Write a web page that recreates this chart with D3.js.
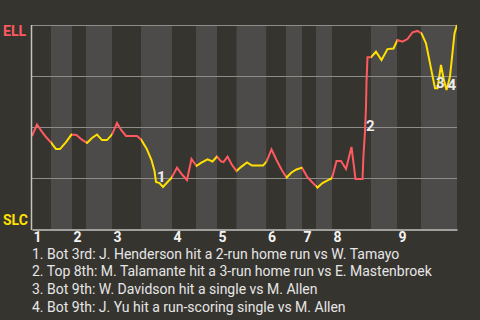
<!DOCTYPE html>
<html>
<head>
<meta charset="utf-8">
<script src="https://cdn.jsdelivr.net/npm/d3@7"></script>
<style>
  body { margin: 0; background: #36342f; }
  svg { display: block; font-family: Roboto, "Noto Sans", sans-serif; }
</style>
</head>
<body>
<div id="chart-area"></div>
<script>
// game progress (plate appearances, stretched) and ELL win probability (%)
var progress = [0, 1, 1.9, 2.8, 3.8, 4.8, 5.6, 6.8, 7.9, 8.9,
  9.9, 11.0, 12.0, 13.0, 14.0, 15.0, 16.0, 17.0, 17.9, 18.8,
  21.0, 21.8, 22.9, 23.9, 24.5, 24.8, 25.5, 26.2, 27.2, 27.9,
  29.0, 30.0, 31.0, 31.9, 32.9, 33.8, 35.1, 36.1, 37.0, 37.8,
  38.3, 39.1, 40.0, 40.9, 41.9, 43.0, 44.0, 46.2, 46.9, 47.9,
  48.9, 49.9, 50.9, 51.9, 52.9, 54.0, 55.0, 55.9, 57.1, 58.1,
  59.2, 60.0, 60.9, 61.8, 62.8, 63.9, 64.7, 66.1, 66.3, 66.6,
  66.8, 66.9, 67.1, 67.8, 68.8, 69.9, 71.1, 72.3, 73.1, 74.1,
  75.1, 76.1, 77.1, 77.9, 78.8, 79.6, 80.6, 81.1, 81.8, 82.3,
  82.9, 83.6, 84.5, 85];
var ellWin = [45.6, 51.2, 48.0, 45.1, 42.4, 39.2, 39.2, 42.6, 46.3, 46.1,
  43.9, 42.2, 44.6, 46.3, 43.6, 43.6, 46.3, 52.0, 48.3, 45.6,
  45.6, 43.9, 39.5, 33.8, 28.4, 23.0, 22.5, 20.6, 23.3, 25.0,
  30.1, 26.7, 24.0, 34.3, 30.9, 32.4, 34.1, 33.1, 35.5, 33.1,
  32.8, 35.5, 31.4, 28.4, 30.6, 32.6, 31.1, 31.1, 33.0, 39.0,
  33.8, 29.2, 25.2, 27.7, 29.2, 30.1, 25.7, 23.3, 20.3, 22.5,
  24.0, 24.9, 33.3, 33.3, 29.4, 40.2, 24.5, 24.5, 36.3, 48.0,
  60.0, 72.1, 84.2, 84.2, 86.9, 82.8, 88.2, 88.5, 92.6, 91.8,
  93.1, 96.4, 97.1, 95.9, 91.0, 81.2, 69.0, 69.0, 80.4, 73.9,
  68.1, 74.7, 95.9, 100];

// half-inning starts (top, bottom) per inning
var innings = ["1", "2", "3", "4", "5", "6", "7", "8", "9"];
var topStarts = [0, 8.0, 16.0, 28.0, 37.0, 46.9, 54.0, 60.0, 73.0];
var botStarts = [3.8, 10.8, 21.8, 32.8, 40.9, 50.8, 56.8, 67.8, 77.8];
var gameEnd = 85;

var gridPct = [25, 50, 75, 100];

var eventIdx = [25, 69, 86, 90];
var eventText = [
  "1. Bot 3rd: J. Henderson hit a 2-run home run vs W. Tamayo",
  "2. Top 8th: M. Talamante hit a 3-run home run vs E. Mastenbroek",
  "3. Bot 9th: W. Davidson hit a single vs M. Allen",
  "4. Bot 9th: J. Yu hit a run-scoring single vs M. Allen"
];

var W = 480, H = 320;
var red = "#ff5a5f", yellow = "#ffe000";

var svg = d3.select("#chart-area").append("svg")
    .attr("width", W)
    .attr("height", H);

var x = d3.scaleLinear().domain([0, gameEnd]).range([32, 457]);
var y = d3.scaleLinear().domain([0, 100]).range([229, 25]);

// half-inning bands
var halves = [];
innings.forEach((d, i) => {
  halves.push({ top: true, x0: topStarts[i], x1: botStarts[i] });
  halves.push({ top: false, x0: botStarts[i], x1: i < 8 ? topStarts[i + 1] : gameEnd });
});

svg.selectAll("rect.band")
  .data(halves)
  .enter().append("rect")
    .attr("class", "band")
    .attr("x", (d) => x(d.x0))
    .attr("y", y(100))
    .attr("width", (d) => x(d.x1) - x(d.x0))
    .attr("height", y(0) - y(100))
    .attr("fill", (d) => d.top ? "#36342f" : "#4c4b49");

// gridlines
svg.selectAll("line.grid")
  .data(gridPct)
  .enter().append("line")
    .attr("x1", x(0)).attr("x2", x(gameEnd))
    .attr("y1", (d) => y(d) + 0.5).attr("y2", (d) => y(d) + 0.5)
    .attr("stroke", "#8e8d8a")
    .attr("stroke-width", 1);

// clip paths so the line takes the batting team's colour
var defs = svg.append("defs");
["top", "bot"].forEach((k) => {
  defs.append("clipPath").attr("id", "clip-" + k)
    .selectAll("rect")
    .data(halves.filter((d) => d.top === (k === "top")))
    .enter().append("rect")
      .attr("x", (d) => x(d.x0))
      .attr("y", 0)
      .attr("width", (d) => x(d.x1) - x(d.x0))
      .attr("height", H);
});

var points = progress.map((p, i) => [p, ellWin[i]]);
var line = d3.line().x((d) => x(d[0])).y((d) => y(d[1]));

svg.append("path").datum(points)
  .attr("d", line).attr("fill", "none")
  .attr("stroke", red).attr("stroke-width", 2)
  .attr("clip-path", "url(#clip-top)");
svg.append("path").datum(points)
  .attr("d", line).attr("fill", "none")
  .attr("stroke", yellow).attr("stroke-width", 2)
  .attr("clip-path", "url(#clip-bot)");

// axes
svg.append("line")
  .attr("x1", x(0) - 0.5).attr("x2", x(0) - 0.5)
  .attr("y1", y(100)).attr("y2", y(0) + 1)
  .attr("stroke", "#c4c3c0").attr("stroke-width", 1.5);

var xAxis = d3.axisBottom(x)
  .tickValues(topStarts)
  .tickFormat((d, i) => innings[i])
  .tickSize(0);
var gx = svg.append("g")
  .attr("transform", "translate(0," + (y(0) + 0.5) + ")")
  .call(xAxis);
gx.select(".domain").attr("stroke", "#c4c3c0").attr("stroke-width", 1.5);
gx.selectAll("text")
  .attr("text-anchor", "start")
  .attr("x", 1)
  .attr("fill", "#f2f2f2")
  .style("font-family", "Roboto, sans-serif")
  .style("font-size", "14px")
  .style("font-weight", "bold");

// team labels
svg.append("text").attr("x", 3).attr("y", 36)
  .attr("fill", red).style("font-size", "14px").style("font-weight", "bold")
  .text("ELL");
svg.append("text").attr("x", 3).attr("y", 224.5)
  .attr("fill", yellow).style("font-size", "14px").style("font-weight", "bold")
  .text("SLC");

// event markers
svg.selectAll("text.evt")
  .data(eventIdx)
  .enter().append("text")
    .attr("class", "evt")
    .attr("x", (d) => x(progress[d]) + 1)
    .attr("y", (d) => y(ellWin[d]))
    .attr("fill", "#ececec")
    .style("font-size", "15px")
    .style("font-weight", "bold")
    .text((d, i) => i + 1);

// event list
svg.selectAll("text.note")
  .data(eventText)
  .enter().append("text")
    .attr("class", "note")
    .attr("x", 32)
    .attr("y", (d, i) => 258.5 + i * 17.7)
    .attr("fill", "#e6e6e6")
    .style("font-size", "14px")
    .text((d) => d);
</script>
</body>
</html>
